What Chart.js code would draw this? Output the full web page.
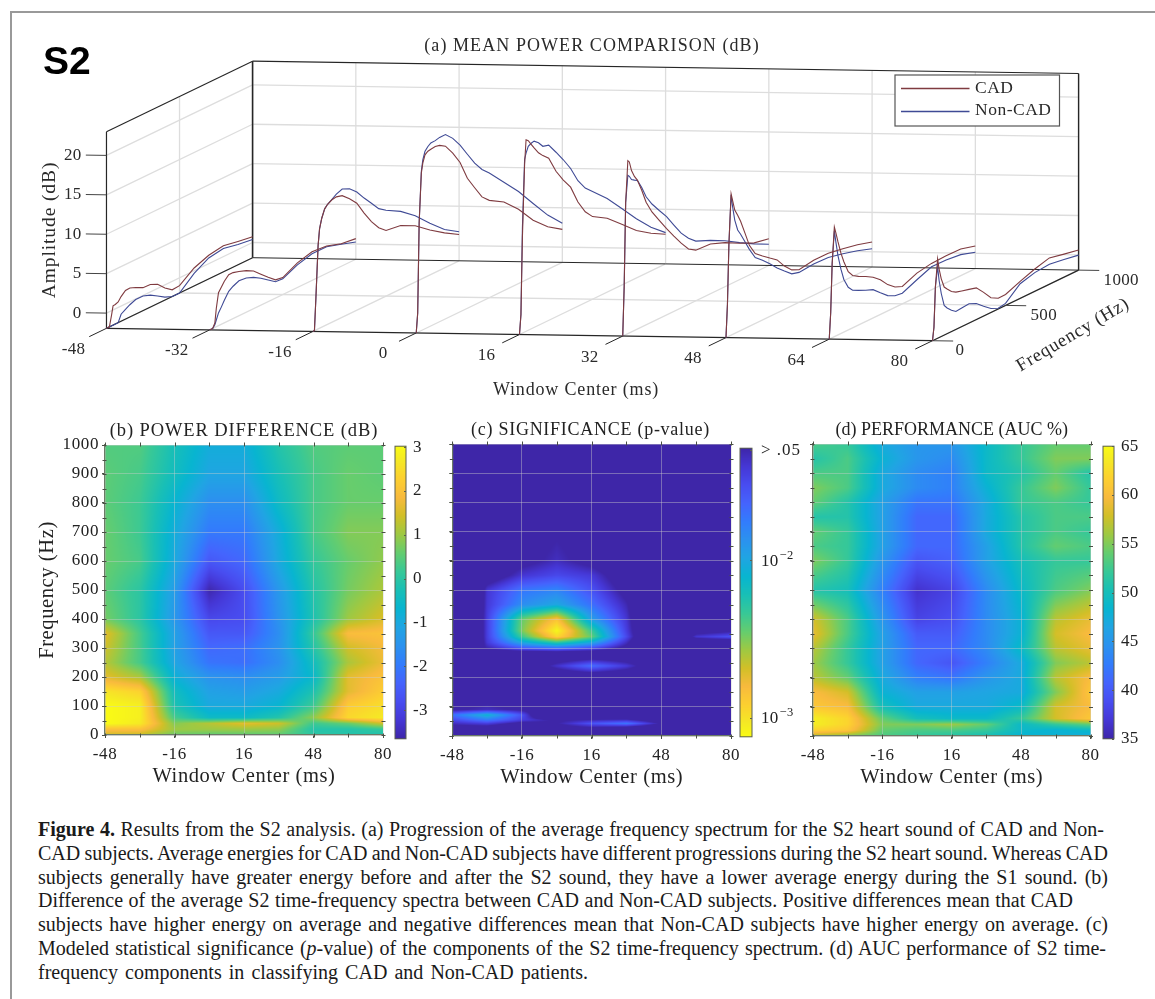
<!DOCTYPE html>
<html>
<head>
<meta charset="utf-8">
<script src="https://cdn.jsdelivr.net/npm/chart.js@4"></script>
<style>
html,body{margin:0;padding:0;background:#fff;width:1155px;height:999px;overflow:hidden}
canvas{position:absolute;display:block}
#frameTop{position:absolute;left:10px;top:11px;width:1145px;height:2px;background:#999}
#frameLeft{position:absolute;left:10px;top:11px;width:2px;height:988px;background:#999}
.cap{position:absolute;left:38px;white-space:nowrap;font-family:"Liberation Serif",serif;font-size:20px;color:#1a1a1a;line-height:20px}
</style>
</head>
<body>
<div id="frameTop"></div><div id="frameLeft"></div>
<canvas id="c3d" width="1155" height="410" style="left:0;top:0"></canvas>
<canvas id="pb" width="363" height="369" style="left:35px;top:420px"></canvas>
<canvas id="pc" width="311" height="371" style="left:435px;top:419px"></canvas>
<canvas id="pd" width="310" height="371" style="left:795px;top:419px"></canvas>
<canvas id="cb" width="50" height="327" style="left:390px;top:429px"></canvas>
<canvas id="cc" width="85" height="327" style="left:735px;top:429px"></canvas>
<canvas id="cd" width="50" height="327" style="left:1098px;top:429px"></canvas>
<script>
// ---------- (a) mean power spectra: amplitude (dB) read at each frequency ----------
const windowCenters = [-48,-32,-16,0,16,32,48,64,80];
const freqHz = [0,10,20,35,45,60,80,100,130,160,200,250,300,350,400,450,500,600,700,800,900,1000];
const cadM48 = [-1.93,-1.93,-1.93,-.54,.52,.56,.69,1.2,1.7,1.75,1.45,.99,.94,.52,-.41,-1.08,-1.0,.35,1.07,1.37,1.03,.73];
const nonM48 = [-1.93,-1.93,-1.93,-1.93,-1.93,-1.93,-1.93,-1.04,-.7,-.37,-.07,-.07,-.41,-.96,-1.55,-1.93,-1.93,-.33,.73,1.03,.65,.39];
const cadM32 = [-1.93,-1.93,-1.93,-1.38,.39,2.25,2.8,3.35,3.9,3.9,3.69,3.35,2.85,2.0,1.16,.39,.23,1.2,1.7,1.54,.94,.69];
const nonM32 = [-1.93,-1.93,-1.93,-1.59,-1.08,-.32,.27,.94,1.79,2.17,2.51,2.42,2.04,1.49,.82,.14,.06,.94,1.45,1.45,.86,.27];
const cadM16 = [-1.93,-1.9,2.13,8.64,10.67,11.89,12.9,13.3,13.6,13.7,13.5,12.65,11.64,9.95,8.42,7.2,6.4,6.14,5.21,3.77,2.51,1.41];
const nonM16 = [-1.93,-1.9,2.13,8.64,10.67,11.89,12.9,13.3,13.67,14.05,14.34,13.92,13.07,11.85,10.75,9.61,8.97,7.92,6.48,4.62,2.93,1.75];
const cadP0  = [-1.93,.52,11.85,18.07,19.2,20.13,20.4,20.47,20.56,20.43,19.97,18.65,17.0,14.55,12.91,11.3,10.41,9.31,7.5,5.21,3.48,2.25];
const nonP0  = [-1.93,.52,11.85,18.27,19.63,20.57,21.0,21.27,21.3,21.44,21.44,20.51,19.2,17.6,16.03,14.77,13.87,11.81,9.74,7.33,4.96,3.02];
const cadP16 = [-1.93,.52,10.16,19.33,22.37,22.12,21.48,20.85,19.96,19.33,18.65,16.54,14.97,13.62,11.3,9.61,8.55,7.45,5.8,4.11,2.85,1.83];
const nonP16 = [-1.93,.52,11.43,19.96,20.67,21.4,21.61,21.7,21.23,20.51,20.3,18.95,17.55,15.99,14.0,12.61,11.72,9.95,7.79,5.59,3.61,2.04];
const cadP32 = [-1.93,4.33,14.81,20.0,19.75,18.53,17.6,16.96,15.4,13.62,12.02,10.5,9.02,7.62,6.27,5.09,4.49,4.37,3.65,2.68,1.83,1.45];
const nonP32 = [-1.93,4.33,14.81,18.15,17.93,17.39,17.13,16.92,15.74,14.3,13.03,11.76,10.54,9.02,7.54,6.44,5.64,4.83,3.9,2.76,1.7,.77];
const cadP48 = [-1.93,2.21,9.74,15.99,15.06,13.71,12.86,11.93,10.16,8.34,6.95,6.18,5.47,4.79,3.56,2.63,2.21,2.51,2.51,2.17,1.79,1.24];
const nonP48 = [-1.93,2.21,9.74,15.86,14.3,12.44,11.0,10.28,9.06,7.83,6.44,5.64,4.75,3.78,2.93,2.13,1.87,2.04,1.96,1.54,1.03,.39];
const cadP64 = [-1.93,1.37,7.5,11.97,11.17,9.86,8.26,6.99,5.47,4.71,4.24,3.78,3.23,2.47,1.41,.65,.27,1.07,1.41,1.49,1.45,.94];
const nonP64 = [-1.93,1.37,7.5,11.51,10.03,8.09,6.23,4.75,3.48,2.85,2.47,2.04,1.66,.82,.01,-.45,-.58,.23,.99,.94,.73,.14];
const cadP80 = [-1.93,-.32,4.75,8.13,6.78,5.38,4.16,3.73,3.14,2.8,2.59,2.34,2.09,1.07,-.07,-.58,-.54,.23,.9,1.41,.99,.61];
const nonP80 = [-1.93,-.32,4.75,7.16,5.34,3.52,1.83,1.32,.77,.35,.44,.52,.1,-.7,-1.42,-1.85,-1.68,-.07,.44,.61,.31,-.03];
const cadCurves = [cadM48,cadM32,cadM16,cadP0,cadP16,cadP32,cadP48,cadP64,cadP80];
const nonCurves = [nonM48,nonM32,nonM16,nonP0,nonP16,nonP32,nonP48,nonP64,nonP80];
const amplitudeTicks = [0,5,10,15,20];
const frequencyTicks3d = [0,500,1000];

// ---------- heat maps: one row per frequency, one column per window centre ----------
const heatWindows = [-48,-32,-16,0,16,32,48,64,80];
const diffFreqs = [0,20,40,60,100,150,200,250,300,350,400,500,600,700,800,900,1000];
const diffRows = [
 [1.4,1.3,.6,.5,.5,.5,0,-.1,-.2],
 [2.0,2.0,1.0,1.0,1.0,.9,-.1,-.1,.1],
 [3.0,2.7,.8,1.2,1.6,1.4,.2,.6,1.4],
 [3.0,2.8,.3,-.5,-.5,-.1,.9,2.4,2.7],
 [3.0,2.8,-.2,-1.0,-1.0,-.7,.2,2.2,2.5],
 [2.6,2.3,-.4,-1.2,-1.3,-1.0,-.2,1.6,2.2],
 [1.6,1.1,-.8,-1.5,-1.6,-1.3,-.6,1.6,2.0],
 [1.2,.3,-1.1,-2.1,-2.2,-1.6,-.4,1.1,1.7],
 [1.4,.3,-1.2,-2.3,-2.2,-1.5,-.1,1.4,1.8],
 [1.6,.3,-1.2,-2.6,-2.6,-1.6,.1,1.9,2.0],
 [.7,0,-1.4,-2.9,-2.8,-1.5,-.2,1.0,1.5],
 [.5,0,-1.3,-3.6,-2.8,-1.4,-.1,.7,1.1],
 [.6,.3,-1.0,-2.6,-2.3,-1.0,.1,.6,.9],
 [.6,.2,-.9,-2.0,-2.0,-.9,.3,.8,.8],
 [.5,.2,-.7,-1.6,-1.6,-.5,.3,.6,.6],
 [.5,.3,-.4,-1.1,-1.1,-.3,.3,.6,.5],
 [.4,.4,-.3,-.9,-.9,-.1,.4,.5,.5]
];
const signifFreqs = [0,30,43,55,72,90,200,240,280,300,320,340,360,400,450,500,550,600,1000];
const signifLogP = [
 [-1,-1,-1,-1,-1,-1,-1,-1,-1],
 [-1.2,-1.2,-1,-1.2,-1.3,-1.25,-1.1,-1,-1],
 [-1.35,-1.45,-1.2,-1.28,-1.55,-1.72,-1.25,-1,-1],
 [-1.5,-1.75,-1.45,-1.25,-1.32,-1.35,-1.1,-1,-1],
 [-1.7,-2.1,-1.55,-.5,-1,-1,-1,-1,-1],
 [-1.25,-1.35,-1.25,-1,-1,-1,-1,-1,-1],
 [-1,-1,-1,-1,-1,-1,-1,-1,-1],
 [-1,-1,-1,-1.38,-1.68,-1.42,-1,-1,-1],
 [-1,-1,-1,-1,-1,-1,-1,-1,-1],
 [-1,-1.3,-1.55,-1.65,-1.5,-1.2,-1,-1,-1],
 [0,-1.42,-2.0,-2.3,-2.0,-1.35,-.5,-1,-1],
 [0,-1.45,-2.35,-2.95,-2.45,-1.5,-.5,-1.4,-1.55],
 [0,-1.45,-2.5,-3.1,-2.35,-1.45,-.5,-1.15,-1.25],
 [0,-1.45,-2.45,-2.85,-1.95,-1.4,-.5,-1,-1],
 [0,-1.42,-1.85,-2.0,-1.7,-1.32,-.5,-1,-1],
 [0,-1.4,-1.72,-1.8,-1.55,-1.2,-1,-1,-1],
 [-1,-1.1,-1.4,-1.5,-1.42,-1.1,-1,-1,-1],
 [-1,-1,-1.2,-1.35,-1.2,-1,-1,-1,-1],
 [-1,-1,-1,-1,-1,-1,-1,-1,-1]
];
const aucFreqs = [0,20,40,60,100,150,200,250,300,350,400,500,600,650,700,750,800,850,900,950,1000];
const aucRows = [
 [57,55,53,52,51,50,48,48,47],
 [62,61,54,53,53,52,49,48,49],
 [64,62,55,55,56,54,49,52,54],
 [64,62,54,50,49,49,52,58,61],
 [61,60,50,47,47,47,49,58,60],
 [60,58,48,46,46,46.5,47,55,61],
 [57,54,47,43,42,45,47,57,60],
 [56,52,46,41,39.5,43,47,55,57],
 [57,52,46,41,41,44,49,57,59],
 [59,53,46,40,40,44,48,58,60],
 [58,53,45,38,39,44,48,57,59],
 [51,50,43,36.5,38,44,49,53,55],
 [55,52,45,39.5,40.5,46,50,52,52],
 [53,52,46,41,41,46,51,54,53],
 [54,52,46,41,41,47,51,53,52],
 [51,51,46,41,41,47,51,53,53],
 [54,51,46,42,42,47,52,53,52],
 [55,53,47,44,43,48,52,55,52],
 [53,53,47,44,43,49,51,54,51],
 [51,53,48,45,44,49,52,55,55],
 [53,52,47,45,45,49,52,54,54]
];
const diffBarTicks = [3,2,1,0,-1,-2,-3];
const signifBarTicks = [-1.3,-2,-3];
const signifBarBases = ['> .05','10','10'];
const signifBarExponents = ['','\u22122','\u22123'];
const aucBarTicks = [65,60,55,50,45,40,35];

// ---------- styles ----------
const SERIF = '"Liberation Serif", serif';
const INK = '#2a2a2a';
const CAD_COLOR = '#7f3b40';
const NON_COLOR = '#3f4a95';
const PARULA = [[.2422,.1504,.6603],[.2706,.2147,.8364],[.2813,.3006,.9414],[.2699,.3892,.9906],[.1963,.4847,.9892],[.1687,.5703,.9359],[.1248,.6459,.8883],[.0297,.7082,.8163],[.0964,.75,.712],[.2161,.7843,.5923],[.3909,.8029,.4354],[.6174,.7876,.2612],[.8203,.7498,.1535],[.9728,.7298,.2394],[.9892,.8136,.1885],[.9597,.9135,.1423],[.9769,.9839,.0805]];
const STOP_POS = [0,4,8,12,16,20,24,28,32,36,40,44,48,52,56,60,63].map(i=>i/63);
function parula(t){
  t=Math.max(0,Math.min(1,t));
  let i=0; while(i<STOP_POS.length-2 && t>STOP_POS[i+1]) i++;
  const u=(t-STOP_POS[i])/(STOP_POS[i+1]-STOP_POS[i]), a=PARULA[i], b=PARULA[i+1];
  return [0,1,2].map(k=>Math.round(255*(a[k]+(b[k]-a[k])*u)));
}
Chart.defaults.font.family = SERIF;
Chart.defaults.color = INK;

// ---------- (a) oblique projection into the chart's x/y scales ----------
const FLOOR = -1.93, TOP = 23;
const projX = (t,f) => t + f*0.02264;
const projY = (t,f,a) => a + f*0.008954 - (t+48)*0.01229;
const pt = (t,f,a) => ({x:projX(t,f), y:projY(t,f,a)});

function curveData(t, vals){ return freqHz.map((f,i)=>pt(t,f,vals[i])); }
const datasets3d = [];
windowCenters.forEach((t,i)=>datasets3d.push({label:'Non-CAD',data:curveData(t,nonCurves[i]),borderColor:NON_COLOR,borderWidth:1.1,showLine:true,pointRadius:0,tension:0,order:2}));
windowCenters.forEach((t,i)=>datasets3d.push({label:'CAD',data:curveData(t,cadCurves[i]),borderColor:CAD_COLOR,borderWidth:1.1,showLine:true,pointRadius:0,tension:0,order:1}));

const box3d = {
  id:'box3d',
  beforeDatasetsDraw(chart){
    const c=chart.ctx, X=chart.scales.x, Y=chart.scales.y;
    c.save();
    const seg=(a,b,col,w)=>{c.strokeStyle=col;c.lineWidth=w;c.beginPath();
      c.moveTo(X.getPixelForValue(a.x),Y.getPixelForValue(a.y));
      c.lineTo(X.getPixelForValue(b.x),Y.getPixelForValue(b.y));c.stroke();};
    const G='#dddddd',GW=1.3;
    windowCenters.forEach(t=>{
      seg(pt(t,0,FLOOR),pt(t,1000,FLOOR),G,GW);
      seg(pt(t,1000,FLOOR),pt(t,1000,TOP),G,GW);
    });
    seg(pt(-48,500,FLOOR),pt(80,500,FLOOR),G,GW);
    seg(pt(-48,500,FLOOR),pt(-48,500,TOP),G,GW);
    amplitudeTicks.forEach(a=>{
      seg(pt(-48,0,a),pt(-48,1000,a),G,GW);
      seg(pt(-48,1000,a),pt(80,1000,a),G,GW);
    });
    const E='#262626';
    seg(pt(-48,0,FLOOR),pt(80,0,FLOOR),E,1.2);
    seg(pt(-48,0,FLOOR),pt(-48,1000,FLOOR),E,1.2);
    seg(pt(80,0,FLOOR),pt(80,1000,FLOOR),E,1.2);
    seg(pt(-48,1000,FLOOR),pt(80,1000,FLOOR),E,1);
    seg(pt(-48,0,FLOOR),pt(-48,0,TOP),E,1.2);
    seg(pt(-48,1000,FLOOR),pt(-48,1000,TOP),E,1.6);
    seg(pt(80,1000,FLOOR),pt(80,1000,TOP),E,1.4);
    seg(pt(-48,0,TOP),pt(-48,1000,TOP),E,1.1);
    seg(pt(-48,1000,TOP),pt(80,1000,TOP),E,1.1);
    // ticks
    windowCenters.forEach(t=>seg(pt(t,0,FLOOR),pt(t,-118,FLOOR),E,1));
    amplitudeTicks.forEach(a=>seg(pt(-48,0,a),pt(-51.2,0,a),'#444',1));
    frequencyTicks3d.forEach(f=>seg(pt(80,f,FLOOR),pt(83.2,f,FLOOR),'#444',1));
    c.restore();
  },
  afterDraw(chart){
    const c=chart.ctx, X=chart.scales.x, Y=chart.scales.y;
    const px=p=>X.getPixelForValue(p.x), py=p=>Y.getPixelForValue(p.y);
    c.save();
    c.textBaseline='middle'; c.fillStyle=INK;
    c.font='17px '+SERIF; c.textAlign='center'; c.letterSpacing='0.3px';
    windowCenters.forEach(t=>{const p=pt(t,0,FLOOR);c.fillText(String(t),px(p)-33,py(p)+21);});
    amplitudeTicks.forEach(a=>{const p=pt(-48,0,a);c.textAlign='right';c.fillText(String(a),px(p)-25,py(p));});
    frequencyTicks3d.forEach((f,i)=>{const p=pt(80,f,FLOOR);c.textAlign='left';c.fillText(String(f),px(p)+[23,25,25][i],py(p)+10);});
    c.textAlign='center';
    c.font='18px '+SERIF; c.letterSpacing='1.07px';
    c.fillText('(a) MEAN POWER COMPARISON (dB)',592,46);
    c.font='18px '+SERIF; c.letterSpacing='0.83px';
    c.fillText('Window Center (ms)',576,390);
    c.font='19.5px '+SERIF; c.letterSpacing='0.9px';
    c.save();c.translate(50,230);c.rotate(-Math.PI/2);c.fillText('Amplitude (dB)',0,0);c.restore();
    c.font='18.5px '+SERIF; c.letterSpacing='0.8px';
    c.save();c.translate(1073,335);c.rotate(-30.6*Math.PI/180);c.fillText('Frequency (Hz)',0,0);c.restore();
    c.font='bold 39px "Liberation Sans", sans-serif'; c.letterSpacing='0px'; c.fillStyle='#000';
    c.textAlign='left'; c.fillText('S2',43,63);
    // legend
    c.fillStyle='#fff'; c.fillRect(895,75,164.5,51);
    c.strokeStyle='#555'; c.lineWidth=1.2; c.strokeRect(895,75,164.5,51);
    c.lineWidth=1.5;
    c.strokeStyle=CAD_COLOR; c.beginPath(); c.moveTo(901,88.5); c.lineTo(969.5,88.5); c.stroke();
    c.strokeStyle=NON_COLOR; c.beginPath(); c.moveTo(901,111.5); c.lineTo(969.5,111.5); c.stroke();
    c.fillStyle=INK; c.font='17.5px '+SERIF; c.letterSpacing='0.5px';
    c.fillText('CAD',975,88); c.fillText('Non-CAD',975,110.5);
    c.restore();
  }
};
new Chart(document.getElementById('c3d'),{
  type:'scatter',
  data:{datasets:datasets3d},
  options:{responsive:false,animation:false,devicePixelRatio:1,
    layout:{padding:0},
    plugins:{legend:{display:false},title:{display:false},tooltip:{enabled:false}},
    scales:{
      x:{type:'linear',display:false,min:-64.5,max:114.48},
      y:{type:'linear',display:false,min:-12.29,max:39.71}
    }}
  ,plugins:[box3d]});

// ---------- heat-map panels ----------
function sampler(times,freqs,rows){
  return (t,f)=>{
    let i=0; while(i<times.length-2 && t>times[i+1]) i++;
    let j=0; while(j<freqs.length-2 && f>freqs[j+1]) j++;
    const u=Math.max(0,Math.min(1,(t-times[i])/(times[i+1]-times[i])));
    const v=Math.max(0,Math.min(1,(f-freqs[j])/(freqs[j+1]-freqs[j])));
    const a=rows[j][i]+(rows[j][i+1]-rows[j][i])*u;
    const b=rows[j+1][i]+(rows[j+1][i+1]-rows[j+1][i])*u;
    return a+(b-a)*v;
  };
}
const heatPlugin = {
  id:'heat',
  beforeDraw(chart){ chart.ctx.letterSpacing='0.6px'; },
  beforeDatasetsDraw(chart,args,o){
    const A=chart.chartArea,X=chart.scales.x,Y=chart.scales.y;
    const w=Math.round(A.right-A.left),h=Math.round(A.bottom-A.top);
    const off=document.createElement('canvas');off.width=w;off.height=h;
    const oc=off.getContext('2d'),img=oc.createImageData(w,h);
    const s=sampler(heatWindows,o.freqs,o.rows);
    for(let r=0;r<h;r++){
      const f=Y.getValueForPixel(A.top+r+.5);
      for(let q=0;q<w;q++){
        const t=X.getValueForPixel(A.left+q+.5);
        const col=parula(o.toUnit(s(t,f)));
        const k=(r*w+q)*4;img.data[k]=col[0];img.data[k+1]=col[1];img.data[k+2]=col[2];img.data[k+3]=255;
      }
    }
    oc.putImageData(img,0,0);
    chart.ctx.drawImage(off,A.left,A.top);
  },
  afterDraw(chart,args,o){
    const c=chart.ctx,A=chart.chartArea,X=chart.scales.x,Y=chart.scales.y;
    c.save();c.strokeStyle='#4a4f45';c.lineWidth=1;c.beginPath();
    for(let t=-48;t<=80;t+=16){const p=Math.round(X.getPixelForValue(t))+.5;
      c.moveTo(p,A.top-2.5);c.lineTo(p,A.top+1.5);c.moveTo(p,A.bottom+2.5);c.lineTo(p,A.bottom-1.5);}
    for(let f=0;f<=1000;f+=50){const p=Math.round(Y.getPixelForValue(f))+.5;
      c.moveTo(A.left-2.5,p);c.lineTo(A.left+1.5,p);c.moveTo(A.right+2.5,p);c.lineTo(A.right-1.5,p);}
    c.stroke();
    c.font=o.titleSize+'px '+SERIF;c.letterSpacing=o.titleSpacing;c.fillStyle='#222';
    c.textAlign='center';c.textBaseline='middle';
    c.fillText(o.title,o.titleX,A.top-14);
    c.restore();
  }
};
function panel(id,cfg){
  const cells=[];
  cfg.freqs.forEach((f,j)=>heatWindows.forEach((t,i)=>cells.push({x:t,y:f,v:cfg.rows[j][i]})));
  new Chart(document.getElementById(id),{
    type:'scatter',
    data:{datasets:[{label:cfg.title,data:cells,pointRadius:0,pointHoverRadius:0,showLine:false}]},
    options:{responsive:false,animation:false,devicePixelRatio:1,
      layout:{padding:{left:0,right:cfg.right,top:25,bottom:0}},
      plugins:{legend:{display:false},tooltip:{enabled:false},
        heat:{freqs:cfg.freqs,rows:cfg.rows,toUnit:cfg.toUnit,title:cfg.title,titleSize:cfg.titleSize,titleSpacing:cfg.titleSpacing,titleX:cfg.titleX}},
      scales:{
        x:{type:'linear',min:-48,max:80,
          afterFit:s=>{s.height=54;},
          ticks:{stepSize:32,autoSkip:false,maxRotation:0,font:{size:17},padding:6,color:'#222'},
          grid:{z:1,color:'rgba(205,205,205,.42)',lineWidth:1,tickColor:'#4a4f45',tickLength:3},
          border:{z:2,color:'#6b7a66',width:1.2},
          title:{display:true,text:'Window Center (ms)',font:{size:20.5},padding:0,color:'#222'}},
        y:{type:'linear',min:0,max:1000,
          afterFit:s=>{s.width=cfg.yWidth;},
          ticks:{stepSize:100,autoSkip:false,display:cfg.yLabels,font:{size:17},padding:3,color:'#222',callback:v=>String(v)},
          grid:{z:1,color:'rgba(205,205,205,.42)',lineWidth:1,tickColor:'#4a4f45',tickLength:3},
          border:{z:2,color:'#6b7a66',width:1.2},
          title:{display:cfg.yLabels,text:'Frequency (Hz)',font:{size:20.5},padding:0,color:'#222'}}
      }},
    plugins:[heatPlugin]});
}
panel('pb',{title:'(b) POWER DIFFERENCE (dB)',freqs:diffFreqs,rows:diffRows,toUnit:v=>(v+3.65)/6.65,right:15,yWidth:70,yLabels:true,titleSize:18.5,titleSpacing:'0.9px',titleX:209});
panel('pc',{title:'(c) SIGNIFICANCE (p-value)',freqs:signifFreqs,rows:signifLogP,toUnit:v=>(-1.29-v)/1.83,right:15,yWidth:17,yLabels:false,titleSize:18,titleSpacing:'0.73px',titleX:155.5});
panel('pd',{title:'(d) PERFORMANCE (AUC %)',freqs:aucFreqs,rows:aucRows,toUnit:v=>(v-35)/30,right:12,yWidth:18,yLabels:false,titleSize:18,titleSpacing:'0px',titleX:156.7});

// ---------- colour bars ----------
const barPlugin = {
  id:'bar',
  beforeDraw(chart){ chart.ctx.letterSpacing='0.3px'; },
  beforeDatasetsDraw(chart,args,o){
    const A=chart.chartArea,Y=chart.scales.y,c=chart.ctx;
    for(let r=Math.floor(A.top);r<A.bottom;r++){
      const col=parula(o.toUnit(Y.getValueForPixel(r+.5)));
      c.fillStyle='rgb('+col.join(',')+')';c.fillRect(A.left,r,A.right-A.left,1);
    }
    c.strokeStyle='#5a5f50';c.lineWidth=1;c.strokeRect(A.left,A.top,A.right-A.left,A.bottom-A.top);
    c.beginPath();
    Y.ticks.forEach(k=>{const p=Math.round(Y.getPixelForValue(k.value))+.5;c.moveTo(A.right-2,p);c.lineTo(A.right,p);});
    c.stroke();
  },
  afterDraw(chart,args,o){
    if(!o.bases) return;
    const A=chart.chartArea,Y=chart.scales.y,c=chart.ctx;
    c.save();c.fillStyle='#222';c.textAlign='left';c.textBaseline='middle';
    o.ticks.forEach((v,i)=>{
      const y=Y.getPixelForValue(v),x=A.right+9;
      c.font='17px '+SERIF;c.letterSpacing=i===0?'1px':'0.3px';
      c.fillText(o.bases[i],x,y+(i?1:0));
      if(o.exps[i]){
        const w=c.measureText(o.bases[i]).width;
        c.font='12.5px '+SERIF;c.letterSpacing='0.3px';
        c.fillText(o.exps[i],x+w+1,y-5);
      }
    });
    c.restore();
  }
};
function colorbar(id,cfg){
  new Chart(document.getElementById(id),{
    type:'scatter',
    data:{datasets:[{label:'colour bar',data:[]}]},
    options:{responsive:false,animation:false,devicePixelRatio:1,
      layout:{padding:{left:5,right:0,top:0,bottom:0}},
      plugins:{legend:{display:false},tooltip:{enabled:false},bar:{toUnit:cfg.toUnit,bases:cfg.bases,exps:cfg.exps,ticks:cfg.ticks}},
      scales:{
        x:{display:false,min:0,max:1},
        y:{type:'linear',position:'right',min:cfg.min,max:cfg.max,
          afterBuildTicks:s=>{s.ticks=cfg.ticks.map(v=>({value:v}));},
          afterFit:s=>{s.width=cfg.canvasW-5-cfg.barW;},
          ticks:{autoSkip:false,font:{size:17},padding:cfg.pad,color:cfg.bases?'rgba(0,0,0,0)':'#222',
            callback:v=>String(v)},
          grid:{display:false,drawTicks:false,tickLength:0},border:{display:false}}
      }},
    plugins:[barPlugin]});
}
colorbar('cb',{min:-3.65,max:3.02,ticks:diffBarTicks,toUnit:v=>(v+3.65)/6.67,canvasW:50,barW:11,pad:7});
colorbar('cc',{min:-3.12,max:-1.287,ticks:signifBarTicks,bases:signifBarBases,exps:signifBarExponents,toUnit:v=>(-1.287-v)/1.833,canvasW:85,barW:12,pad:9});
colorbar('cd',{min:35,max:65,ticks:aucBarTicks,toUnit:v=>(v-35)/30,canvasW:50,barW:11,pad:7});

// ---------- caption ----------
const captionLines = [
 '<b>Figure 4.</b> Results from the S2 analysis. (a) Progression of the average frequency spectrum for the S2 heart sound of CAD and Non-',
 'CAD subjects. Average energies for CAD and Non-CAD subjects have different progressions during the S2 heart sound. Whereas CAD',
 'subjects generally have greater energy before and after the S2 sound, they have a lower average energy during the S1 sound. (b)',
 'Difference of the average S2 time-frequency spectra between CAD and Non-CAD subjects. Positive differences mean that CAD',
 'subjects have higher energy on average and negative differences mean that Non-CAD subjects have higher energy on average. (c)',
 'Modeled statistical significance (<i>p</i>-value) of the components of the S2 time-frequency spectrum. (d) AUC performance of S2 time-',
 'frequency components in classifying CAD and Non-CAD patients.'
];
const captionWidths = [1066,1070,1070,1035,1070,1068,550];
captionLines.forEach((s,i)=>{
  const d=document.createElement('div');d.className='cap';d.innerHTML=s;
  d.style.top=(819+i*23.8)+'px';document.body.appendChild(d);
  const gaps=d.textContent.split(' ').length-1;
  d.style.wordSpacing=((captionWidths[i]-d.getBoundingClientRect().width)/gaps)+'px';
});
</script>
</body>
</html>
